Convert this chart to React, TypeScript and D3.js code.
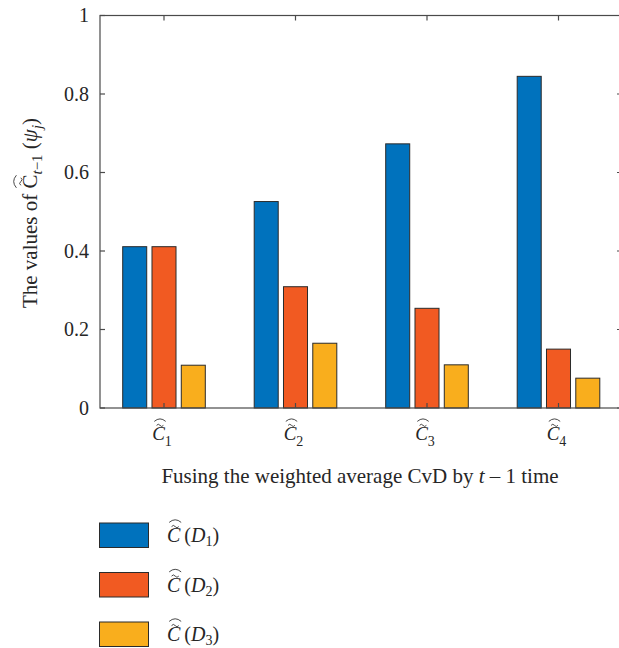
import React, { useEffect, useRef } from 'react';
import * as d3 from 'd3';

// categories are C~_1 .. C~_4, series are C~(D1) .. C~(D3)
const categories = ['1', '2', '3', '4'];
const seriesSubs = ['1', '2', '3'];
const d1Values = [0.411, 0.526, 0.673, 0.845];
const d2Values = [0.411, 0.309, 0.254, 0.15];
const d3Values = [0.109, 0.165, 0.11, 0.076];
const seriesColors = ['#0072BD', '#F15A22', '#F9AE1D'];
const yTicks = [0, 0.2, 0.4, 0.6, 0.8, 1];
const yTickLabels = ['0', '0.2', '0.4', '0.6', '0.8', '1'];

const FONT = '"Liberation Serif", "DejaVu Serif", serif';
const W = 619;
const H = 648;

const App = () => {
    const ref = useRef<SVGSVGElement>(null);

    useEffect(() => {
        drawChart();
    }, []);

    // tilde + wide hat above a C glyph
    const hatC = (g: any, cx: number, baseline: number, fs: number) => {
        const tildeY = baseline - fs * 0.77;
        const hatY = baseline - fs * 0.98;
        const tw = fs * 0.18;
        g.append('path')
            .attr('d', `M ${cx - tw} ${tildeY} q ${tw / 2} ${-fs * 0.12} ${tw} 0 t ${tw} 0`)
            .attr('fill', 'none')
            .attr('stroke', '#333')
            .attr('stroke-width', 0.9);
        const hw = fs * 0.3;
        g.append('path')
            .attr('d', `M ${cx - hw} ${hatY} Q ${cx} ${hatY - fs * 0.26} ${cx + hw} ${hatY}`)
            .attr('fill', 'none')
            .attr('stroke', '#333')
            .attr('stroke-width', 0.9);
    };

    const drawChart = () => {
        const svg = d3.select(ref.current);
        svg.selectAll('*').remove();

        const left = 100;
        const right = 622;
        const top = 15.5;
        const bottom = 408;

        const x = d3.scaleLinear().domain([1, 4]).range([164, 558.5]);
        const inner = d3.scaleBand<number>().domain([0, 1, 2]).range([-41.3, 41.3]).paddingInner(0.18);
        const y = d3.scaleLinear().domain([0, 1]).range([bottom, top]);

        const series = [d1Values, d2Values, d3Values];

        // bars
        const bars = svg.append('g');
        series.forEach((vals, j) => {
            bars.selectAll(null)
                .data(vals)
                .enter().append('rect')
                .attr('x', (d, i) => x(i + 1) + (inner(j) as number))
                .attr('y', d => y(d))
                .attr('width', inner.bandwidth())
                .attr('height', d => y(0) - y(d))
                .attr('fill', seriesColors[j])
                .attr('stroke', '#2b2b2b')
                .attr('stroke-width', 1);
        });

        // box + ticks
        const axis = svg.append('g').attr('stroke', '#4a4a4a').attr('stroke-width', 1.2).attr('fill', 'none');
        axis.append('rect')
            .attr('x', left).attr('y', top)
            .attr('width', right - left).attr('height', bottom - top);
        yTicks.forEach(t => {
            axis.append('line').attr('x1', left).attr('x2', left + 5).attr('y1', y(t)).attr('y2', y(t));
            axis.append('line').attr('x1', right).attr('x2', right - 5).attr('y1', y(t)).attr('y2', y(t));
        });
        categories.forEach((c, i) => {
            axis.append('line').attr('x1', x(i + 1)).attr('x2', x(i + 1)).attr('y1', bottom).attr('y2', bottom - 5);
            axis.append('line').attr('x1', x(i + 1)).attr('x2', x(i + 1)).attr('y1', top).attr('y2', top + 5);
        });

        // y tick labels
        svg.append('g')
            .selectAll('text')
            .data(yTicks)
            .enter().append('text')
            .attr('x', left - 11)
            .attr('y', d => y(d))
            .attr('dy', '0.34em')
            .attr('text-anchor', 'end')
            .attr('font-family', FONT)
            .attr('font-size', 20)
            .attr('fill', '#262626')
            .text((d, i) => yTickLabels[i]);

        // x tick labels: C~_i
        const xl = svg.append('g');
        categories.forEach((c, i) => {
            const cx = x(i + 1) - 2;
            const base = 440;
            const t = xl.append('text')
                .attr('x', cx)
                .attr('y', base)
                .attr('text-anchor', 'middle')
                .attr('font-family', FONT)
                .attr('font-size', 19)
                .attr('fill', '#262626');
            t.append('tspan').attr('font-style', 'italic').text('C');
            t.append('tspan').attr('font-size', 14).attr('dy', 6).text(c);
            const node = t.node() as SVGTextElement;
            const ext = node.getExtentOfChar(0);
            hatC(xl, ext.x + ext.width / 2 + 1.5, base, 19);
        });

        // x axis title
        const xt = svg.append('text')
            .attr('x', 360)
            .attr('y', 483)
            .attr('text-anchor', 'middle')
            .attr('font-family', FONT)
            .attr('font-size', 21)
            .attr('fill', '#262626');
        xt.append('tspan').text('Fusing the weighted average CvD by ');
        xt.append('tspan').attr('font-style', 'italic').text('t');
        xt.append('tspan').text(' \u2013 1 time');

        // y axis title
        const yg = svg.append('g').attr('transform', 'translate(37,213) rotate(-90)');
        const yt = yg.append('text')
            .attr('x', 0)
            .attr('y', 0)
            .attr('text-anchor', 'middle')
            .attr('font-family', FONT)
            .attr('font-size', 21)
            .attr('fill', '#262626');
        yt.append('tspan').text('The values of ');
        yt.append('tspan').text('C');
        yt.append('tspan').attr('font-size', 15).attr('font-style', 'italic').attr('dy', 5).text('t');
        yt.append('tspan').attr('font-size', 15).text('\u22121');
        yt.append('tspan').attr('dy', -5).text(' (');
        yt.append('tspan').attr('font-style', 'italic').text('\u03c8');
        yt.append('tspan').attr('font-size', 15).attr('font-style', 'italic').attr('dy', 5).text('j');
        yt.append('tspan').attr('dy', -5).text(')');
        const yNode = yt.node() as SVGTextElement;
        const cIdx = 'The values of '.length;
        const cExt = yNode.getExtentOfChar(cIdx);
        hatC(yg, cExt.x + cExt.width / 2, 0, 21);

        // legend
        const ly = d3.scaleLinear().domain([0, 2]).range([523, 622]);
        const legend = svg.append('g');
        seriesSubs.forEach((s, j) => {
            legend.append('rect')
                .attr('x', 99.5)
                .attr('y', ly(j))
                .attr('width', 49)
                .attr('height', 24.5)
                .attr('fill', seriesColors[j])
                .attr('stroke', '#2b2b2b')
                .attr('stroke-width', 1);
            const base = ly(j) + 19;
            const t = legend.append('text')
                .attr('x', 167)
                .attr('y', base)
                .attr('font-family', FONT)
                .attr('font-size', 20)
                .attr('fill', '#262626');
            t.append('tspan').attr('font-style', 'italic').text('C');
            t.append('tspan').text('\u2009(');
            t.append('tspan').attr('font-style', 'italic').text('D');
            t.append('tspan').attr('font-size', 14).attr('dy', 4).text(s);
            t.append('tspan').attr('dy', -4).text(')');
            const ext = (t.node() as SVGTextElement).getExtentOfChar(0);
            hatC(legend, ext.x + ext.width / 2 + 1.5, base, 20);
        });
    };

    return (
        <svg ref={ref} width={W} height={H} style={{ display: 'block', position: 'absolute', left: 0, top: 0 }}></svg>
    );
};

export default App;
